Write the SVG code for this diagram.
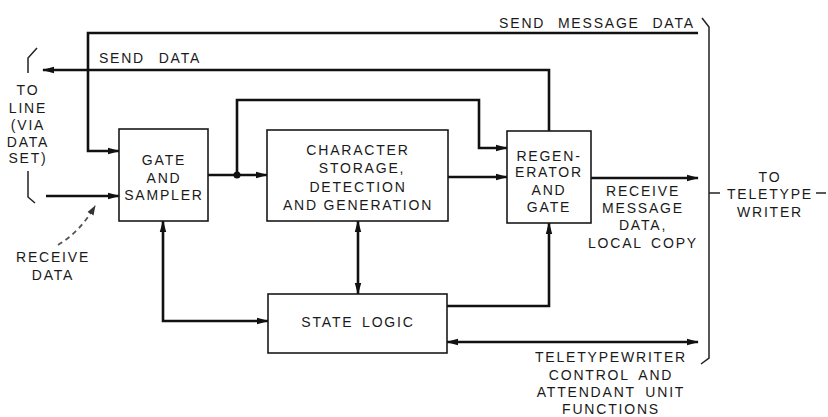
<svg xmlns="http://www.w3.org/2000/svg" width="828" height="417" viewBox="0 0 828 417">
<defs>
<marker id="ah" markerUnits="userSpaceOnUse" markerWidth="12" markerHeight="8" refX="11" refY="4" orient="auto-start-reverse">
<path d="M0,0.8 L12,4 L0,7.2 Z" fill="#111"/>
</marker>
<marker id="ahs" markerUnits="userSpaceOnUse" markerWidth="10" markerHeight="8" refX="9" refY="4" orient="auto">
<path d="M0,0.5 L10,4 L0,7.5 Z" fill="#333"/>
</marker>
</defs>
<style>
.box{fill:#fff;stroke:#1a1a1a;stroke-width:1.6}
.t{font-family:"Liberation Sans","DejaVu Sans",sans-serif;font-size:14px;letter-spacing:1.8px;fill:#1a1a1a;text-anchor:middle}
.c{fill:none;stroke:#111;stroke-width:2.6}
.b{fill:none;stroke:#222;stroke-width:1.5}
</style>
<rect width="828" height="417" fill="#fff"/>

<g id="connectors">
<path class="c" d="M698,33 H88 V151 H119" marker-end="url(#ah)"/>
<path class="c" d="M549,131 V70 H43" marker-end="url(#ah)"/>
<path class="c" d="M208,175 H267" marker-end="url(#ah)"/>
<circle cx="237" cy="175" r="3.5" fill="#111"/>
<path class="c" d="M237,175 V100 H479 V148 H507" marker-end="url(#ah)"/>
<path class="c" d="M448,177 H507" marker-end="url(#ah)"/>
<path class="c" d="M591,178 H698" marker-end="url(#ah)"/>
<path class="c" d="M46,196 H119" marker-end="url(#ah)"/>
<path class="c" d="M163,221 V321 H268" marker-start="url(#ah)" marker-end="url(#ah)"/>
<path class="c" d="M358,221 V294" marker-start="url(#ah)" marker-end="url(#ah)"/>
<path class="c" d="M447,306 H549 V223" marker-end="url(#ah)"/>
<path class="c" d="M447,342 H698" marker-start="url(#ah)" marker-end="url(#ah)"/>
<path d="M58,245 Q80,232 95,206" fill="none" stroke="#555" stroke-width="1.8" stroke-dasharray="5,4" marker-end="url(#ahs)"/>
</g>

<g id="braces">
<path class="b" d="M37,48 L28,58 V73"/>
<path class="b" d="M28,171 V197 L35,203"/>
<path class="b" d="M702,18 L709,27 V358 L701,364"/>
<path class="b" d="M709,193 H720"/>
<path class="b" d="M816,193 H826"/>
</g>

<g id="gate">
<rect class="box" x="119" y="129" width="89" height="92"/>
<text class="t" x="164" y="165">GATE</text>
<text class="t" x="164" y="183">AND</text>
<text class="t" x="164" y="200">SAMPLER</text>
</g>

<g id="char">
<rect class="box" x="267" y="130" width="181" height="91"/>
<text class="t" x="358" y="155">CHARACTER</text>
<text class="t" x="362" y="173">STORAGE,</text>
<text class="t" x="358" y="192">DETECTION</text>
<text class="t" x="358" y="210">AND GENERATION</text>
</g>

<g id="regen">
<rect class="box" x="507" y="131" width="84" height="92"/>
<text class="t" x="549" y="161">REGEN-</text>
<text class="t" x="549" y="177">ERATOR</text>
<text class="t" x="549" y="195">AND</text>
<text class="t" x="549" y="212">GATE</text>
</g>

<g id="state">
<rect class="box" x="268" y="294" width="179" height="59"/>
<text class="t" x="358" y="327" style="word-spacing:3px">STATE LOGIC</text>
</g>

<g id="labels">
<text class="t" x="597" y="28" style="word-spacing:7px">SEND MESSAGE DATA</text>
<text class="t" x="150" y="63" style="word-spacing:8px">SEND DATA</text>
<text class="t" x="28" y="95">TO</text>
<text class="t" x="28" y="113">LINE</text>
<text class="t" x="28" y="130">(VIA</text>
<text class="t" x="28" y="147">DATA</text>
<text class="t" x="28" y="163">SET)</text>
<text class="t" x="53" y="262">RECEIVE</text>
<text class="t" x="53" y="280">DATA</text>
<text class="t" x="643" y="196">RECEIVE</text>
<text class="t" x="643" y="213">MESSAGE</text>
<text class="t" x="643" y="230">DATA,</text>
<text class="t" x="643" y="248" style="word-spacing:3px">LOCAL COPY</text>
<text class="t" x="770" y="182">TO</text>
<text class="t" x="770" y="199">TELETYPE</text>
<text class="t" x="770" y="217">WRITER</text>
<text class="t" x="611" y="362">TELETYPEWRITER</text>
<text class="t" x="611" y="380" style="word-spacing:4px">CONTROL AND</text>
<text class="t" x="611" y="397" style="word-spacing:4px">ATTENDANT UNIT</text>
<text class="t" x="611" y="414">FUNCTIONS</text>
</g>
</svg>
